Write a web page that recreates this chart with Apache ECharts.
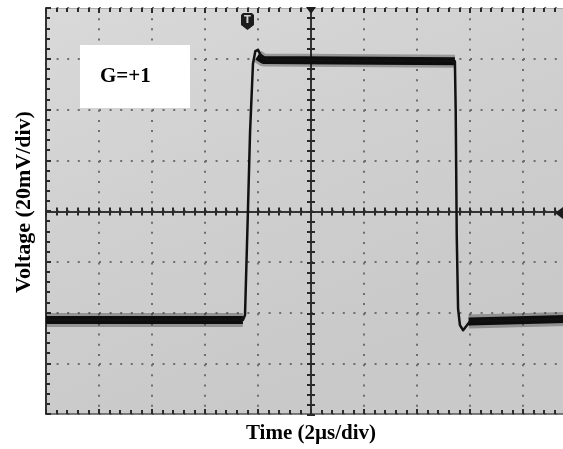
<!DOCTYPE html>
<html>
<head>
<meta charset="utf-8">
<script src="https://cdn.jsdelivr.net/npm/echarts@6/dist/echarts.min.js"></script>
<style>html,body{margin:0;padding:0;background:#fff;overflow:hidden}#c{width:580px;height:449px}</style>
</head>
<body>
<div id="c"></div>
<script>
// Trace: time in µs (2 µs/div), voltage in mV (20 mV/div)
const traceTime = [-10, -2.57, -2.49, -2.38, -2.30, -2.19, -2.10, -2.00, -1.85, -1.60, 5.43, 5.46, 5.50, 5.55, 5.62, 5.74, 5.85, 6.00, 10];
const traceVolt = [-43, -43, -41, 0, 31, 58, 63, 63.5, 60.5, 59.5, 59, 40, -10, -38.5, -45, -47, -45.5, -43.5, -42.5];
// Noisy (thick) flat portions of the trace
const lowBeforeTime = [-10, -2.57];
const lowBeforeVolt = [-43, -43];
const highTime = [-2.02, -1.8, 5.43];
const highVolt = [61, 59.5, 59];
const lowAfterTime = [5.95, 10];
const lowAfterVolt = [-43.5, -42.5];
// Axis ranges (one division = 2 µs / 20 mV)
const timeRange = [-10, 10, 2];
const voltRange = [-80, 80, 20];

const zip = (a, b) => a.map((v, i) => [v, b[i]]);

const G = {left: 46, top: 8, width: 530, height: 407};
const tickCol = '#2a2a2a';
const dotCol = '#6e6e6e';

function baseX(extra) {
  return Object.assign({
    type: 'value', min: timeRange[0], max: timeRange[1], interval: timeRange[2],
    axisLabel: {show: false}, splitLine: {show: false}
  }, extra);
}
function baseY(extra) {
  return Object.assign({
    type: 'value', min: voltRange[0], max: voltRange[1], interval: voltRange[2],
    axisLabel: {show: false}, splitLine: {show: false}
  }, extra);
}
const tk = (len, w) => ({show: true, inside: true, length: len, lineStyle: {color: tickCol, width: w}});
const mtk = (len, w) => ({show: true, splitNumber: 5, length: len, lineStyle: {color: tickCol, width: w}});

const serif = 'Liberation Serif, Times New Roman, serif';

const option = {
  animation: false,
  backgroundColor: '#ffffff',
  grid: [
    Object.assign({show: true, borderWidth: 0,
      backgroundColor: {type: 'linear', x: 0, y: 0, x2: 0.3, y2: 1,
        colorStops: [{offset: 0, color: '#d9d9d9'}, {offset: 0.5, color: '#d0d0d0'}, {offset: 1, color: '#c9c9c9'}]}}, G),
    Object.assign({}, G)
  ],
  xAxis: [
    baseX({gridIndex: 0, position: 'bottom',
      axisLine: {show: true, onZero: false, lineStyle: {color: '#555', width: 1.5}},
      axisTick: tk(5, 2), minorTick: mtk(4, 2),
      splitLine: {show: true, lineStyle: {color: dotCol, width: 2, type: [2, 8.175]}},
      name: 'Time (2µs/div)', nameLocation: 'middle', nameGap: 9,
      nameTextStyle: {fontFamily: serif, fontWeight: 'bold', fontSize: 21, color: '#000'}}),
    baseX({gridIndex: 0, position: 'top',
      axisLine: {show: true, onZero: false, lineStyle: {color: '#aaa', width: 1}},
      axisTick: tk(5, 2), minorTick: mtk(4, 2)}),
    baseX({gridIndex: 1, position: 'bottom',
      axisLine: {show: true, onZero: true, lineStyle: {color: tickCol, width: 1.5}},
      axisTick: tk(4, 2), minorTick: mtk(4, 2)}),
    baseX({gridIndex: 1, position: 'top',
      axisLine: {show: true, onZero: true, lineStyle: {color: tickCol, width: 1.5}},
      axisTick: tk(4, 2), minorTick: mtk(4, 2)})
  ],
  yAxis: [
    baseY({gridIndex: 0, position: 'left',
      axisLine: {show: true, onZero: false, lineStyle: {color: '#333', width: 2}},
      axisTick: tk(5, 2), minorTick: mtk(4, 2),
      splitLine: {show: true, lineStyle: {color: dotCol, width: 2, type: [2, 8.6]}},
      name: 'Voltage (20mV/div)', nameLocation: 'middle', nameGap: 11,
      nameTextStyle: {fontFamily: serif, fontWeight: 'bold', fontSize: 22, color: '#000', padding: [0, 0, 0, 18]}}),
    baseY({gridIndex: 1, position: 'left',
      axisLine: {show: true, onZero: true, lineStyle: {color: tickCol, width: 1.5}},
      axisTick: tk(4, 2), minorTick: mtk(4, 2)}),
    baseY({gridIndex: 1, position: 'right',
      axisLine: {show: true, onZero: true, lineStyle: {color: tickCol, width: 1.5}},
      axisTick: tk(4, 2), minorTick: mtk(4, 2)})
  ],
  series: [
    {type: 'line', xAxisIndex: 0, yAxisIndex: 0, data: zip(lowBeforeTime, lowBeforeVolt), showSymbol: false, silent: true,
      lineStyle: {color: '#111', width: 14, opacity: 0.3, cap: 'butt'}, z: 3},
    {type: 'line', xAxisIndex: 0, yAxisIndex: 0, data: zip(highTime, highVolt), showSymbol: false, silent: true,
      lineStyle: {color: '#111', width: 13, opacity: 0.3, cap: 'butt'}, z: 3},
    {type: 'line', xAxisIndex: 0, yAxisIndex: 0, data: zip(lowAfterTime, lowAfterVolt), showSymbol: false, silent: true,
      lineStyle: {color: '#111', width: 14, opacity: 0.3, cap: 'butt'}, z: 3},
    {type: 'line', xAxisIndex: 0, yAxisIndex: 0, data: zip(lowBeforeTime, lowBeforeVolt), showSymbol: false, silent: true,
      lineStyle: {color: '#0d0d0d', width: 8, cap: 'butt'}, z: 4},
    {type: 'line', xAxisIndex: 0, yAxisIndex: 0, data: zip(highTime, highVolt), showSymbol: false, silent: true,
      lineStyle: {color: '#0d0d0d', width: 8, cap: 'butt'}, z: 4},
    {type: 'line', xAxisIndex: 0, yAxisIndex: 0, data: zip(lowAfterTime, lowAfterVolt), showSymbol: false, silent: true,
      lineStyle: {color: '#0d0d0d', width: 8, cap: 'butt'}, z: 4},
    {type: 'line', xAxisIndex: 0, yAxisIndex: 0, data: zip(traceTime, traceVolt), showSymbol: false, silent: true,
      lineStyle: {color: '#111', width: 2.5, join: 'round'}, z: 5}
  ],
  graphic: [
    {type: 'rect', shape: {x: 80, y: 45, width: 110, height: 63}, style: {fill: '#ffffff'}, z: 10},
    {type: 'text', x: 100, y: 77, style: {text: 'G=+1', fontFamily: serif, fontWeight: 'bold', fontSize: 21,
      fill: '#000', verticalAlign: 'middle'}, z: 11},
    {type: 'polygon', shape: {points: [[241, 15], [243, 13], [252, 13], [254, 15], [254, 25], [247.5, 30], [241, 25]]},
      style: {fill: '#1c1c1c'}, z: 10},
    {type: 'text', x: 247.5, y: 20, style: {text: 'T', fontFamily: 'DejaVu Sans', fontWeight: 'bold', fontSize: 10,
      fill: '#cfcfcf', align: 'center', verticalAlign: 'middle'}, z: 11},
    {type: 'polygon', shape: {points: [[306, 7], [316, 7], [311, 14]]}, style: {fill: '#1c1c1c'}, z: 10},
    {type: 'polygon', shape: {points: [[563, 207], [563, 219], [555, 213]]}, style: {fill: '#1c1c1c'}, z: 10}
  ]
};

const chart = echarts.init(document.getElementById('c'), null, {renderer: 'canvas'});
chart.setOption(option);
</script>
</body>
</html>
